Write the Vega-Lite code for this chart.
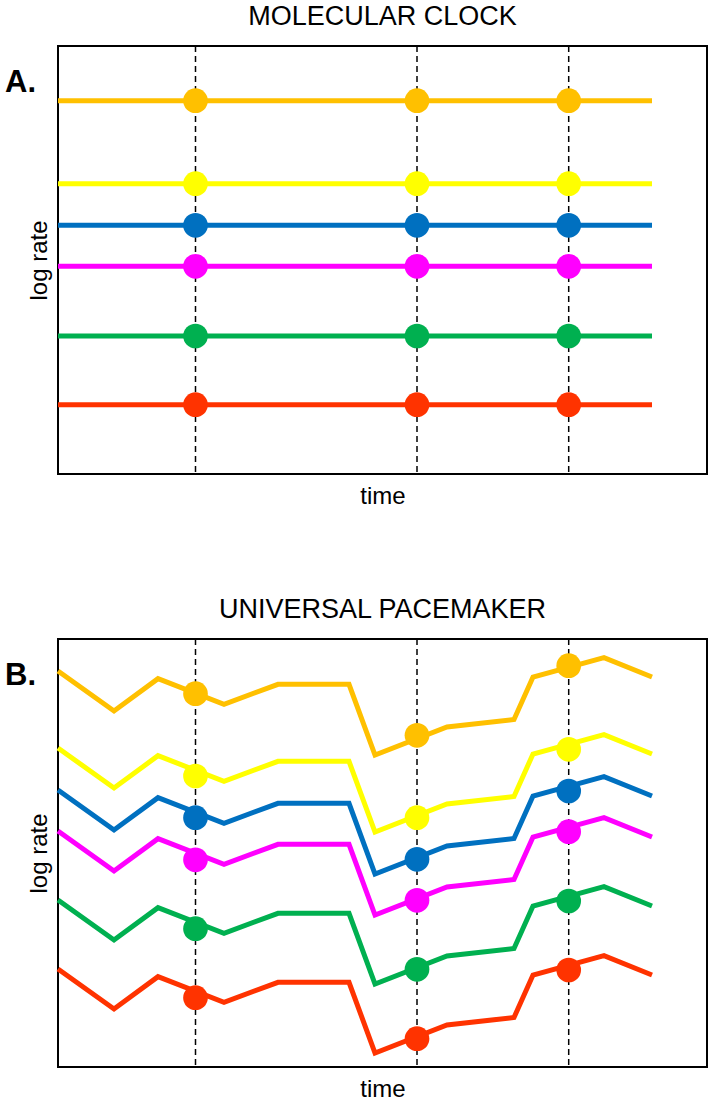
{
  "$schema": "https://vega.github.io/schema/vega-lite/v6.json",
  "padding": {"left": 4, "top": 2, "right": 2, "bottom": 2},
  "spacing": 86,
  "background": "white",
  "config": {
    "view": {"stroke": "black", "strokeWidth": 2},
    "font": "Liberation Sans",
    "axis": {"domain": false, "ticks": false, "labels": false, "grid": false, "titleFontSize": 24, "titleFontWeight": "normal", "titleColor": "black", "titleFont": "Liberation Sans"},
    "title": {"fontSize": 27, "fontWeight": "normal", "offset": 14, "color": "black", "font": "Liberation Sans"}
  },
  "datasets": {
    "times": [{"t": 137.5}, {"t": 359}, {"t": 510.7}],
    "lineA": [
      {"s": "orange", "t": 0, "v": 373.3}, {"s": "orange", "t": 594, "v": 373.3},
      {"s": "yellow", "t": 0, "v": 290.3}, {"s": "yellow", "t": 594, "v": 290.3},
      {"s": "blue", "t": 0, "v": 248.7}, {"s": "blue", "t": 594, "v": 248.7},
      {"s": "magenta", "t": 0, "v": 207.7}, {"s": "magenta", "t": 594, "v": 207.7},
      {"s": "green", "t": 0, "v": 138}, {"s": "green", "t": 594, "v": 138},
      {"s": "red", "t": 0, "v": 69.3}, {"s": "red", "t": 594, "v": 69.3}
    ],
    "dotA": [
      {"s": "orange", "t": 137.5, "v": 373.3}, {"s": "orange", "t": 359, "v": 373.3}, {"s": "orange", "t": 510.7, "v": 373.3},
      {"s": "yellow", "t": 137.5, "v": 290.3}, {"s": "yellow", "t": 359, "v": 290.3}, {"s": "yellow", "t": 510.7, "v": 290.3},
      {"s": "blue", "t": 137.5, "v": 248.7}, {"s": "blue", "t": 359, "v": 248.7}, {"s": "blue", "t": 510.7, "v": 248.7},
      {"s": "magenta", "t": 137.5, "v": 207.7}, {"s": "magenta", "t": 359, "v": 207.7}, {"s": "magenta", "t": 510.7, "v": 207.7},
      {"s": "green", "t": 137.5, "v": 138}, {"s": "green", "t": 359, "v": 138}, {"s": "green", "t": 510.7, "v": 138},
      {"s": "red", "t": 137.5, "v": 69.3}, {"s": "red", "t": 359, "v": 69.3}, {"s": "red", "t": 510.7, "v": 69.3}
    ],
    "lineB": [
      {"s": "orange", "t": 0, "v": 396}, {"s": "orange", "t": 56, "v": 356}, {"s": "orange", "t": 100, "v": 388.3}, {"s": "orange", "t": 166, "v": 362.7}, {"s": "orange", "t": 220, "v": 382.7}, {"s": "orange", "t": 291, "v": 382.7}, {"s": "orange", "t": 317, "v": 312}, {"s": "orange", "t": 389, "v": 340}, {"s": "orange", "t": 456, "v": 347.5}, {"s": "orange", "t": 475, "v": 390}, {"s": "orange", "t": 546, "v": 409.3}, {"s": "orange", "t": 594, "v": 390},
      {"s": "yellow", "t": 0, "v": 319}, {"s": "yellow", "t": 56, "v": 279}, {"s": "yellow", "t": 100, "v": 311.3}, {"s": "yellow", "t": 166, "v": 285.7}, {"s": "yellow", "t": 220, "v": 305.7}, {"s": "yellow", "t": 291, "v": 305.7}, {"s": "yellow", "t": 317, "v": 235}, {"s": "yellow", "t": 389, "v": 263}, {"s": "yellow", "t": 456, "v": 270.5}, {"s": "yellow", "t": 475, "v": 313}, {"s": "yellow", "t": 546, "v": 332.3}, {"s": "yellow", "t": 594, "v": 313},
      {"s": "blue", "t": 0, "v": 277}, {"s": "blue", "t": 56, "v": 237}, {"s": "blue", "t": 100, "v": 269.3}, {"s": "blue", "t": 166, "v": 243.7}, {"s": "blue", "t": 220, "v": 263.7}, {"s": "blue", "t": 291, "v": 263.7}, {"s": "blue", "t": 317, "v": 193}, {"s": "blue", "t": 389, "v": 221}, {"s": "blue", "t": 456, "v": 228.5}, {"s": "blue", "t": 475, "v": 271}, {"s": "blue", "t": 546, "v": 290.3}, {"s": "blue", "t": 594, "v": 271},
      {"s": "magenta", "t": 0, "v": 236}, {"s": "magenta", "t": 56, "v": 196}, {"s": "magenta", "t": 100, "v": 228.3}, {"s": "magenta", "t": 166, "v": 202.7}, {"s": "magenta", "t": 220, "v": 222.7}, {"s": "magenta", "t": 291, "v": 222.7}, {"s": "magenta", "t": 317, "v": 152}, {"s": "magenta", "t": 389, "v": 180}, {"s": "magenta", "t": 456, "v": 187.5}, {"s": "magenta", "t": 475, "v": 230}, {"s": "magenta", "t": 546, "v": 249.3}, {"s": "magenta", "t": 594, "v": 230},
      {"s": "green", "t": 0, "v": 167}, {"s": "green", "t": 56, "v": 127}, {"s": "green", "t": 100, "v": 159.3}, {"s": "green", "t": 166, "v": 133.7}, {"s": "green", "t": 220, "v": 153.7}, {"s": "green", "t": 291, "v": 153.7}, {"s": "green", "t": 317, "v": 83}, {"s": "green", "t": 389, "v": 111}, {"s": "green", "t": 456, "v": 118.5}, {"s": "green", "t": 475, "v": 161}, {"s": "green", "t": 546, "v": 180.3}, {"s": "green", "t": 594, "v": 161},
      {"s": "red", "t": 0, "v": 98}, {"s": "red", "t": 56, "v": 58}, {"s": "red", "t": 100, "v": 90.3}, {"s": "red", "t": 166, "v": 64.7}, {"s": "red", "t": 220, "v": 84.7}, {"s": "red", "t": 291, "v": 84.7}, {"s": "red", "t": 317, "v": 14}, {"s": "red", "t": 389, "v": 42}, {"s": "red", "t": 456, "v": 49.5}, {"s": "red", "t": 475, "v": 92}, {"s": "red", "t": 546, "v": 111.3}, {"s": "red", "t": 594, "v": 92}
    ],
    "dotB": [
      {"s": "orange", "t": 137.5, "v": 373.3}, {"s": "orange", "t": 359, "v": 331.7}, {"s": "orange", "t": 510.7, "v": 401.3},
      {"s": "yellow", "t": 137.5, "v": 291}, {"s": "yellow", "t": 359, "v": 249.3}, {"s": "yellow", "t": 510.7, "v": 317.7},
      {"s": "blue", "t": 137.5, "v": 249.3}, {"s": "blue", "t": 359, "v": 207.7}, {"s": "blue", "t": 510.7, "v": 276},
      {"s": "magenta", "t": 137.5, "v": 207.2}, {"s": "magenta", "t": 359, "v": 166.7}, {"s": "magenta", "t": 510.7, "v": 235.3},
      {"s": "green", "t": 137.5, "v": 138.3}, {"s": "green", "t": 359, "v": 97.7}, {"s": "green", "t": 510.7, "v": 166},
      {"s": "red", "t": 137.5, "v": 69.3}, {"s": "red", "t": 359, "v": 28.3}, {"s": "red", "t": 510.7, "v": 97}
    ]
  },
  "vconcat": [
    {
      "width": 649,
      "height": 428,
      "title": "MOLECULAR CLOCK",
      "layer": [
        {
          "data": {"name": "times"},
          "mark": {"type": "rule", "strokeDash": [6, 4], "strokeWidth": 1.5, "color": "black"},
          "encoding": {
            "x": {"field": "t", "type": "quantitative", "scale": {"domain": [0, 649], "nice": false, "zero": false}, "axis": {"title": "time", "titlePadding": 10}}
          }
        },
        {
          "data": {"name": "lineA"},
          "mark": {"type": "line", "strokeWidth": 5, "strokeCap": "butt"},
          "encoding": {
            "x": {"field": "t", "type": "quantitative", "scale": {"domain": [0, 649], "nice": false, "zero": false}, "axis": {"title": "time", "titlePadding": 10}},
            "y": {"field": "v", "type": "quantitative", "scale": {"domain": [0, 428], "nice": false, "zero": false}, "axis": {"title": "log rate", "titlePadding": 7}},
            "color": {"field": "s", "type": "nominal", "legend": null, "scale": {"domain": ["orange", "yellow", "blue", "magenta", "green", "red"], "range": ["#FFC000", "#FFFF00", "#0070C0", "#FF00FF", "#00B050", "#FF3300"]}}
          }
        },
        {
          "data": {"name": "dotA"},
          "mark": {"type": "circle", "size": 610, "opacity": 1},
          "encoding": {
            "x": {"field": "t", "type": "quantitative", "scale": {"domain": [0, 649], "nice": false, "zero": false}, "axis": {"title": "time", "titlePadding": 10}},
            "y": {"field": "v", "type": "quantitative", "scale": {"domain": [0, 428], "nice": false, "zero": false}, "axis": {"title": "log rate", "titlePadding": 7}},
            "color": {"field": "s", "type": "nominal", "legend": null, "scale": {"domain": ["orange", "yellow", "blue", "magenta", "green", "red"], "range": ["#FFC000", "#FFFF00", "#0070C0", "#FF00FF", "#00B050", "#FF3300"]}}
          }
        },
        {
          "data": {"values": [{}]},
          "mark": {"type": "text", "text": "A.", "fontSize": 31, "fontWeight": "bold", "align": "left", "baseline": "alphabetic", "color": "black"},
          "encoding": {
            "x": {"datum": -53, "type": "quantitative"},
            "y": {"datum": 382, "type": "quantitative"}
          }
        }
      ]
    },
    {
      "width": 649,
      "height": 428,
      "title": "UNIVERSAL PACEMAKER",
      "layer": [
        {
          "data": {"name": "times"},
          "mark": {"type": "rule", "strokeDash": [6, 4], "strokeWidth": 1.5, "color": "black"},
          "encoding": {
            "x": {"field": "t", "type": "quantitative", "scale": {"domain": [0, 649], "nice": false, "zero": false}, "axis": {"title": "time", "titlePadding": 10}}
          }
        },
        {
          "data": {"name": "lineB"},
          "mark": {"type": "line", "strokeWidth": 5, "strokeCap": "butt", "strokeJoin": "miter"},
          "encoding": {
            "x": {"field": "t", "type": "quantitative", "scale": {"domain": [0, 649], "nice": false, "zero": false}, "axis": {"title": "time", "titlePadding": 10}},
            "y": {"field": "v", "type": "quantitative", "scale": {"domain": [0, 428], "nice": false, "zero": false}, "axis": {"title": "log rate", "titlePadding": 7}},
            "color": {"field": "s", "type": "nominal", "legend": null, "scale": {"domain": ["orange", "yellow", "blue", "magenta", "green", "red"], "range": ["#FFC000", "#FFFF00", "#0070C0", "#FF00FF", "#00B050", "#FF3300"]}}
          }
        },
        {
          "data": {"name": "dotB"},
          "mark": {"type": "circle", "size": 610, "opacity": 1},
          "encoding": {
            "x": {"field": "t", "type": "quantitative", "scale": {"domain": [0, 649], "nice": false, "zero": false}, "axis": {"title": "time", "titlePadding": 10}},
            "y": {"field": "v", "type": "quantitative", "scale": {"domain": [0, 428], "nice": false, "zero": false}, "axis": {"title": "log rate", "titlePadding": 7}},
            "color": {"field": "s", "type": "nominal", "legend": null, "scale": {"domain": ["orange", "yellow", "blue", "magenta", "green", "red"], "range": ["#FFC000", "#FFFF00", "#0070C0", "#FF00FF", "#00B050", "#FF3300"]}}
          }
        },
        {
          "data": {"values": [{}]},
          "mark": {"type": "text", "text": "B.", "fontSize": 31, "fontWeight": "bold", "align": "left", "baseline": "alphabetic", "color": "black"},
          "encoding": {
            "x": {"datum": -53, "type": "quantitative"},
            "y": {"datum": 382, "type": "quantitative"}
          }
        }
      ]
    }
  ]
}
